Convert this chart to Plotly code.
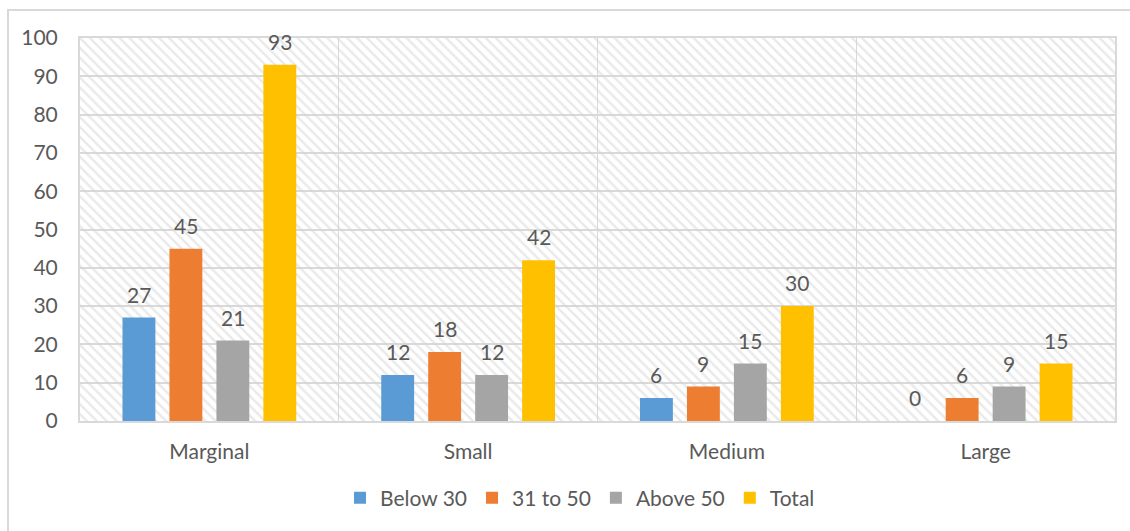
import plotly.graph_objects as go

# Farm size classes and respondent counts per age group
categories = ["Marginal", "Small", "Medium", "Large"]
below_30 = [27, 12, 6, 0]
age_31_to_50 = [45, 18, 9, 6]
above_50 = [21, 12, 15, 9]
total = [93, 42, 30, 15]

series_names = ["Below 30", "31 to 50", "Above 50", "Total"]
series_values = [below_30, age_31_to_50, above_50, total]
series_colors = ["#5b9bd5", "#ed7d31", "#a5a5a5", "#ffc000"]

Y_MAX = 100
Y_STEP = 10

W, H = 1130, 531
M_L, M_R, M_T, M_B = 80, 15, 38, 110
plot_w = W - M_L - M_R
plot_h = H - M_T - M_B

FONT = "Lato"
TEXT_COLOR = "#595959"
GRID = "#d9d9d9"
FS = 21

BARGAP = 0.274
BARGROUPGAP = 0.3

n_cat = len(categories)
n_ser = len(series_names)

fig = go.Figure()

# hatched plot-area backdrop on the base axes
fig.add_trace(go.Bar(
    x=[n_cat / 2], y=[Y_MAX], width=[n_cat],
    marker=dict(color="rgba(0,0,0,0)", line=dict(width=0),
                pattern=dict(shape="\\", fgcolor="#d4d4d4", bgcolor="rgba(0,0,0,0)",
                             size=7, solidity=0.35)),
    showlegend=False, hoverinfo="skip", xaxis="x", yaxis="y",
))

for name, vals, color in zip(series_names, series_values, series_colors):
    fig.add_trace(go.Bar(
        name=name, x=categories, y=vals,
        marker=dict(color=color, line=dict(width=0)),
        xaxis="x2", yaxis="y2",
    ))

# value labels above each bar, offset to each bar's slot within its group
cat_w = plot_w / n_cat
slot = (1 - BARGAP) * cat_w / n_ser
for si, vals in enumerate(series_values):
    for cat, v in zip(categories, vals):
        fig.add_annotation(
            x=cat, y=v, xref="x2", yref="y2", text=str(v), showarrow=False,
            xanchor="center", yanchor="bottom",
            xshift=(si - (n_ser - 1) / 2) * slot, yshift=9,
            font=dict(family=FONT, size=FS, color=TEXT_COLOR),
        )

# outer chart frame in pixel terms converted to paper coords
def px_to_paper_x(px):
    return (px - M_L) / plot_w

def px_to_paper_y(py):
    return (H - M_B - py) / plot_h

fig.add_shape(type="rect", xref="paper", yref="paper",
              x0=px_to_paper_x(8), x1=px_to_paper_x(1140),
              y0=px_to_paper_y(545), y1=px_to_paper_y(10),
              line=dict(color="#d9d9d9", width=2), fillcolor="rgba(0,0,0,0)",
              layer="below")

fig.update_layout(
    width=W, height=H,
    margin=dict(l=M_L, r=M_R, t=M_T, b=M_B),
    paper_bgcolor="white", plot_bgcolor="white",
    barmode="group", bargap=BARGAP, bargroupgap=BARGROUPGAP,
    font=dict(family=FONT, size=FS, color=TEXT_COLOR),
    xaxis=dict(range=[0, n_cat], tickvals=list(range(n_cat + 1)), showticklabels=False,
               showgrid=True, gridcolor=GRID, gridwidth=1, zeroline=False,
               showline=True, linecolor=GRID, linewidth=2, mirror=True, ticks=""),
    yaxis=dict(range=[0, Y_MAX], dtick=Y_STEP, showgrid=True, gridcolor=GRID, gridwidth=2,
               zeroline=False, showline=True, linecolor=GRID, linewidth=2, mirror=True,
               ticks="", ticklabelstandoff=16,
               tickfont=dict(family=FONT, size=FS, color=TEXT_COLOR)),
    xaxis2=dict(overlaying="x", anchor="y2", type="category", range=[-0.5, n_cat - 0.5],
                showgrid=False, zeroline=False, showline=False, ticks="",
                ticklabelstandoff=16,
                tickfont=dict(family=FONT, size=FS, color=TEXT_COLOR)),
    yaxis2=dict(overlaying="y", anchor="x2", range=[0, Y_MAX], showgrid=False,
                zeroline=False, showline=False, showticklabels=False),
    legend=dict(orientation="h", x=px_to_paper_x(580), xanchor="center",
                y=px_to_paper_y(498), yanchor="middle",
                font=dict(family=FONT, size=FS, color=TEXT_COLOR),
                bgcolor="rgba(0,0,0,0)"),
    showlegend=True,
)

fig.write_html("out.html")
